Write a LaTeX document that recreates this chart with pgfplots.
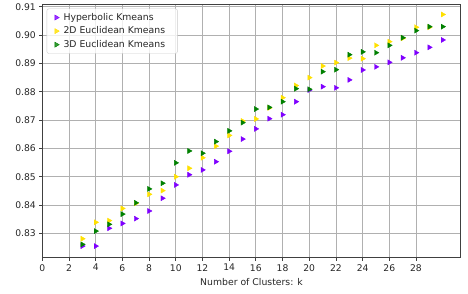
\documentclass[border=0pt]{standalone}
\usepackage{fontspec}
\setmainfont{DejaVu Sans}
\usepackage{pgfplots}
\pgfplotsset{compat=1.18}
\definecolor{hypc}{HTML}{7F00FF}
\definecolor{twoc}{HTML}{FFE000}
\definecolor{thrc}{HTML}{008000}
\definecolor{gridc}{HTML}{B0B0B0}
\definecolor{txtc}{HTML}{262626}
\begin{document}
\begin{tikzpicture}
\begin{axis}[
  at={(0pt,0pt)}, anchor=south west,
  scale only axis, width=418.4pt, height=253.7pt,
  xmin=0, xmax=31.35, ymin=0.8214, ymax=0.911,
  xtick={0,2,...,28},
  ytick={0.83,0.84,0.85,0.86,0.87,0.88,0.89,0.90,0.91},
  /pgf/number format/assume math mode=true,
  yticklabel style={/pgf/number format/.cd, fixed, fixed zerofill, precision=2},
  xticklabel style={/pgf/number format/.cd, fixed},
  tick label style={font=\fontsize{9.2}{11}\selectfont, text=txtc},
  grid=major,
  major grid style={gridc, line width=0.7pt},
  axis line style={black!75, line width=0.8pt},
  tick style={black!75, line width=0.7pt},
  major tick length=3pt,
  tick align=outside,
  tick pos=left,
  xlabel={Number of Clusters: k},
  xlabel style={font=\fontsize{9.3}{11}\selectfont, text=txtc, at={(axis description cs:0.5,0)}, anchor=center, yshift=-24pt},
  legend image code/.code={\draw[mark repeat=2, mark phase=2, #1] plot coordinates {(0pt,0pt) (6pt,0pt) (12pt,0pt)};},
  legend style={at={(axis description cs:0.0105,0.982)}, anchor=north west,
    draw=black!20, rounded corners=2pt, fill=white, fill opacity=0.8, text opacity=1,
    font=\fontsize{9.3}{11}\selectfont, text=txtc, row sep=1pt, inner xsep=8pt, inner ysep=2.5pt,
    nodes={inner xsep=4.3pt}},
  legend cell align=left,
]
\addplot[only marks, mark=triangle*, mark size=2.9pt, mark options={rotate=-90, draw=hypc, fill=hypc}] coordinates {
(3,0.8255) (4,0.8255) (5,0.8318) (6,0.8335) (7,0.8352) (8,0.8379) (9,0.8424) (10,0.8471)
(11,0.8507) (12,0.8524) (13,0.8553) (14,0.8590) (15,0.8633) (16,0.8669) (17,0.8705) (18,0.8719)
(19,0.8765) (20,0.8806) (21,0.8818) (22,0.8814) (23,0.8842) (24,0.8877) (25,0.8888) (26,0.8904)
(27,0.8920) (28,0.8938) (29,0.8957) (30,0.8983)};
\addlegendentry{Hyperbolic Kmeans}
\addplot[only marks, mark=triangle*, mark size=2.9pt, mark options={rotate=-90, draw=twoc, fill=twoc}] coordinates {
(3,0.8281) (4,0.8339) (5,0.8345) (6,0.8388) (7,0.8406) (8,0.8438) (9,0.8451) (10,0.8500)
(11,0.8530) (12,0.8567) (13,0.8608) (14,0.8646) (15,0.8697) (16,0.8704) (17,0.8743) (18,0.8779)
(19,0.8822) (20,0.8850) (21,0.8891) (22,0.8903) (23,0.8919) (24,0.8917) (25,0.8964) (26,0.8977)
(27,0.8989) (28,0.9028) (29,0.9028) (30,0.9073)};
\addlegendentry{2D Euclidean Kmeans}
\addplot[only marks, mark=triangle*, mark size=2.9pt, mark options={rotate=-90, draw=thrc, fill=thrc}] coordinates {
(3,0.8261) (4,0.8308) (5,0.8332) (6,0.8368) (7,0.8408) (8,0.8457) (9,0.8477) (10,0.8549)
(11,0.8591) (12,0.8583) (13,0.8624) (14,0.8662) (15,0.8691) (16,0.8739) (17,0.8745) (18,0.8765)
(19,0.8811) (20,0.8809) (21,0.8871) (22,0.8878) (23,0.8931) (24,0.8941) (25,0.8938) (26,0.8964)
(27,0.8991) (28,0.9016) (29,0.9030) (30,0.9030)};
\addlegendentry{3D Euclidean Kmeans}
\end{axis}
\pgfresetboundingbox
\path[use as bounding box] (-42.3pt,-35.3pt) rectangle (425.7pt,257.7pt);
\end{tikzpicture}
\end{document}
